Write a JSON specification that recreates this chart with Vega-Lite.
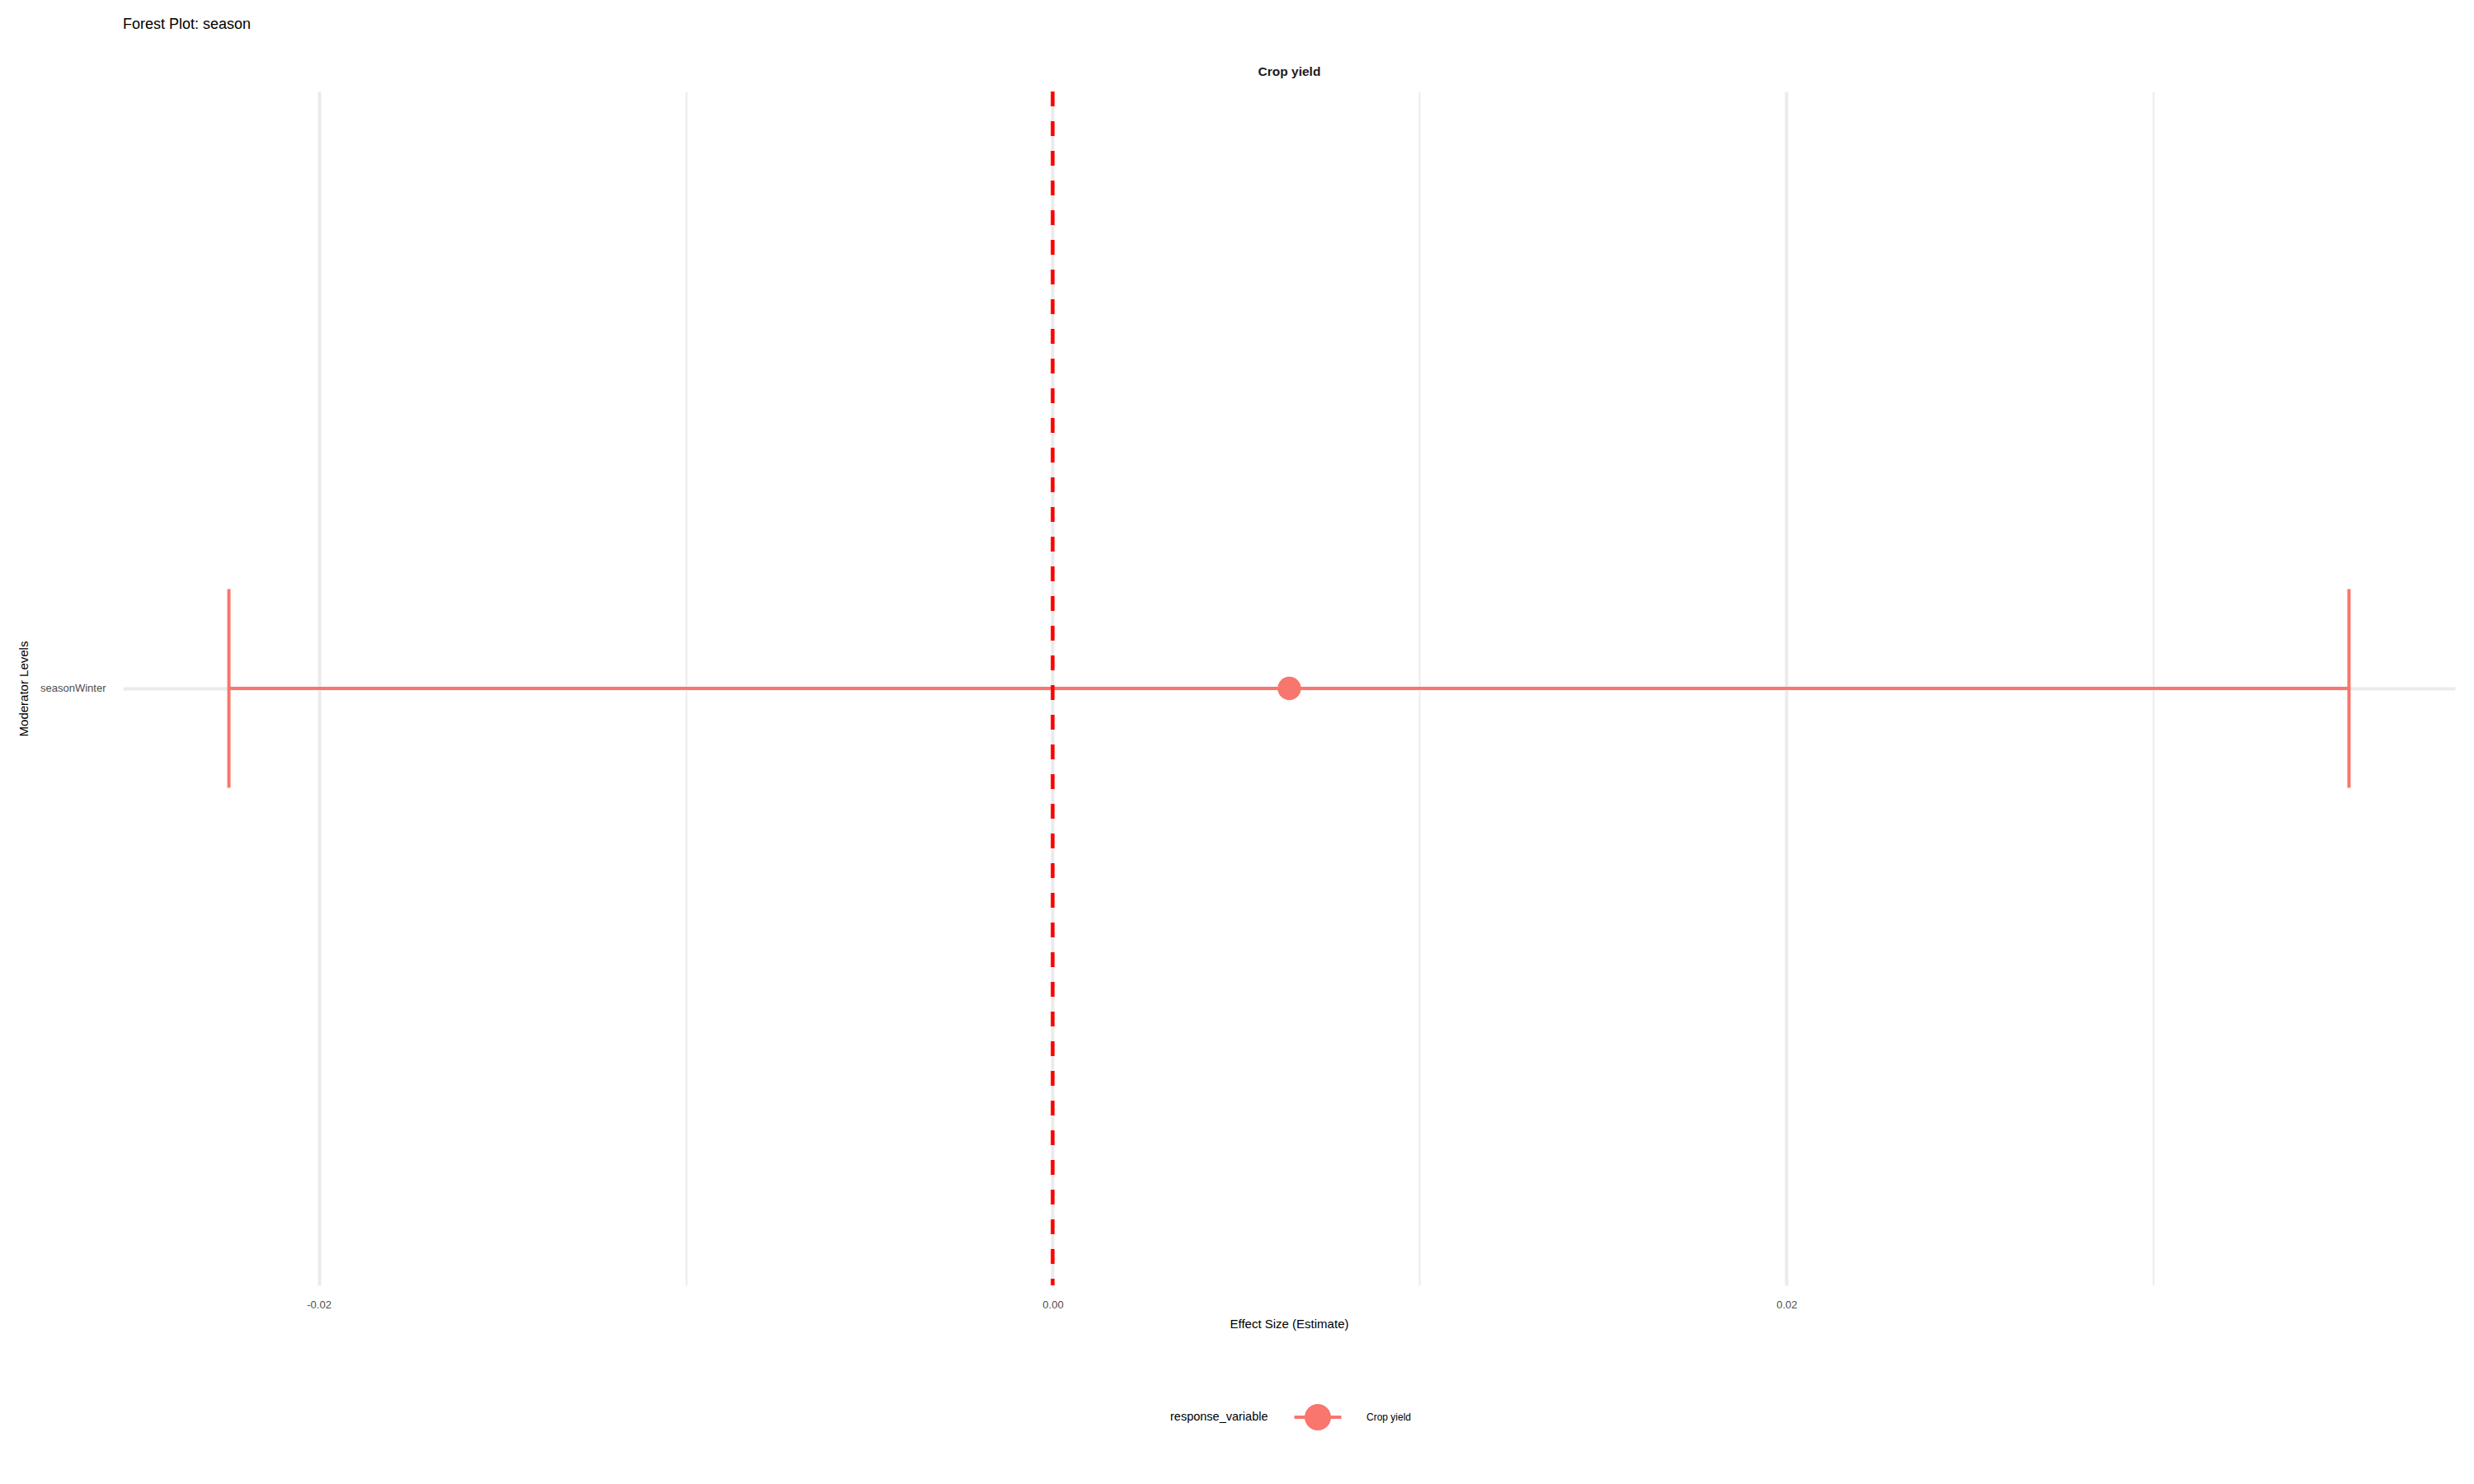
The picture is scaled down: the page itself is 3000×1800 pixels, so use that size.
{
  "$schema": "https://vega.github.io/schema/vega-lite/v6.json",
  "autosize": {"type": "none"},
  "padding": {"left": 149, "top": 111, "right": 23, "bottom": 241},
  "width": 2828,
  "height": 1448,
  "background": "white",
  "title": {"text": "Forest Plot: season", "anchor": "start", "frame": "group", "fontSize": 18, "font": "Liberation Sans", "fontWeight": "normal", "color": "#000000", "offset": 40},
  "data": {"values": [
    {"moderator": "seasonWinter", "response_variable": "Crop yield", "estimate": 0.00645, "ci_lower": -0.02245, "ci_upper": 0.03533}
  ]},
  "layer": [
    {
      "mark": {"type": "rule", "strokeWidth": 4, "opacity": 1},
      "encoding": {
        "y": {"field": "moderator", "type": "nominal", "title": "Moderator Levels",
          "axis": {"domain": false, "ticks": false, "grid": true, "gridColor": "#EBEBEB", "gridWidth": 4, "labelFontSize": 13, "labelColor": "#4D4D4D", "labelFont": "Liberation Sans", "labelPadding": 21, "titleFont": "Liberation Sans", "titleFontSize": 15, "titleFontWeight": "normal", "titleColor": "#000000", "titlePadding": 12}},
        "x": {"field": "ci_lower", "type": "quantitative", "title": "Effect Size (Estimate)",
          "scale": {"domain": [-0.02534, 0.03822], "nice": false, "zero": false},
          "axis": {"orient": "bottom", "values": [-0.02, -0.01, 0, 0.01, 0.02, 0.03], "labelExpr": "round(datum.value*100) % 2 === 0 ? replace(format(datum.value, '.2f'), '\u2212', '-') : ''", "domain": false, "ticks": false, "grid": true, "gridColor": "#EBEBEB", "gridWidth": {"condition": {"test": "round(datum.value*100) % 2 === 0", "value": 4}, "value": 2}, "labelFontSize": 13, "labelColor": "#4D4D4D", "labelFont": "Liberation Sans", "labelPadding": 17, "titleFont": "Liberation Sans", "titleFontSize": 15, "titleFontWeight": "normal", "titleColor": "#000000", "titlePadding": 9}},
        "x2": {"field": "ci_upper"},
        "color": {"field": "response_variable", "type": "nominal", "scale": {"domain": ["Crop yield"], "range": ["#F8766D"]}, "title": "response_variable"}
      }
    },
    {
      "mark": {"type": "tick", "thickness": 4, "size": 241, "opacity": 1},
      "encoding": {
        "y": {"field": "moderator", "type": "nominal"},
        "x": {"field": "ci_lower", "type": "quantitative", "title": "Crop yield",
          "axis": {"orient": "top", "values": [0], "labelExpr": "''", "ticks": false, "domain": false, "grid": false, "titleFont": "Liberation Sans", "titleFontSize": 15.5, "titleFontWeight": "bold", "titleColor": "#1A1A1A", "titlePadding": 5}},
        "color": {"field": "response_variable", "type": "nominal"}
      }
    },
    {
      "mark": {"type": "tick", "thickness": 4, "size": 241, "opacity": 1},
      "encoding": {
        "y": {"field": "moderator", "type": "nominal"},
        "x": {"field": "ci_upper", "type": "quantitative", "axis": null},
        "color": {"field": "response_variable", "type": "nominal"}
      }
    },
    {
      "mark": {"type": "point", "filled": true, "shape": "circle", "size": 804, "opacity": 1},
      "encoding": {
        "y": {"field": "moderator", "type": "nominal"},
        "x": {"field": "estimate", "type": "quantitative", "axis": null},
        "color": {"field": "response_variable", "type": "nominal"}
      }
    },
    {
      "mark": {"type": "rule", "color": "#FF0000", "strokeWidth": 4.5, "strokeDash": [18, 18]},
      "encoding": {"x": {"datum": 0, "type": "quantitative", "axis": null}}
    }
  ],
  "resolve": {"axis": {"x": "independent"}},
  "config": {
    "view": {"stroke": null},
    "legend": {
      "orient": "none",
      "legendX": 1270,
      "legendY": 1592,
      "direction": "horizontal",
      "titleOrient": "left",
      "titleFont": "Liberation Sans",
      "titleFontSize": 14.5,
      "titleFontWeight": "normal",
      "titleColor": "#000000",
      "titlePadding": 44,
      "titleBaseline": "middle",
      "labelFont": "Liberation Sans",
      "labelFontSize": 12,
      "labelColor": "#000000",
      "labelOffset": 43,
      "symbolType": "M-1.78,-0.125L1.78,-0.125L1.78,0.125L-1.78,0.125Z M-1,0A1,1 0 1,1 1,0A1,1 0 1,1 -1,0Z",
      "symbolSize": 1024,
      "symbolStrokeWidth": 0,
      "symbolOpacity": 1
    }
  }
}
